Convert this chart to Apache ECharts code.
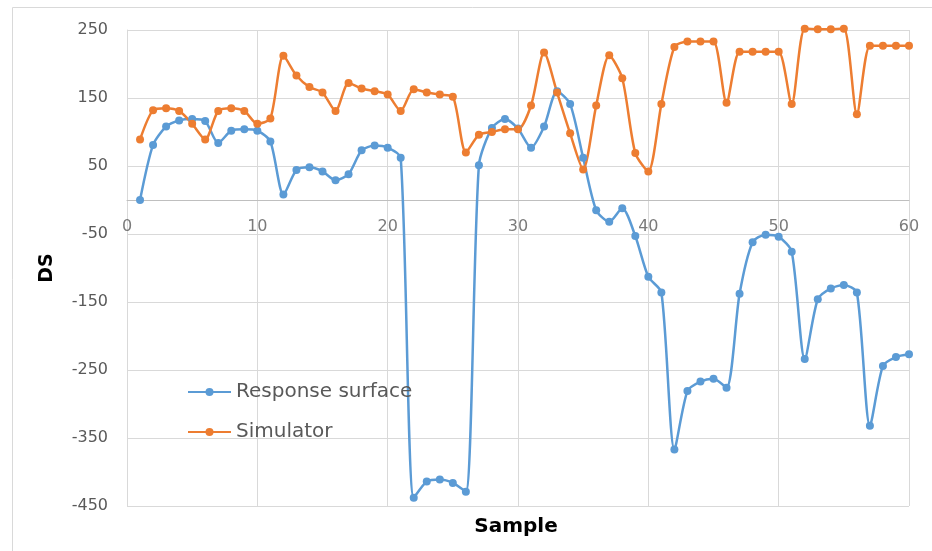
<!DOCTYPE html>
<html>
<head>
<meta charset="utf-8">
<script src="https://cdn.jsdelivr.net/npm/echarts@6/dist/echarts.min.js"></script>
<style>html,body{margin:0;padding:0;background:#fff}#c{width:932px;height:551px}</style>
</head>
<body>
<div id="c"></div>
<script>
const samples = [1,2,3,4,5,6,7,8,9,10,11,12,13,14,15,16,17,18,19,20,21,22,23,24,25,26,27,28,29,30,31,32,33,34,35,36,37,38,39,40,41,42,43,44,45,46,47,48,49,50,51,52,53,54,55,56,57,58,59,60];
const responseSurface = [0,81,108,117,119,116,84,102,104,102,86,8,44,48,42,29,38,73,80,77,62,-438,-414,-411,-416,-429,51,106,119,105,77,108,160,141,62,-15,-32,-12,-53,-113,-136,-367,-281,-267,-263,-276,-138,-62,-51,-54,-76,-234,-146,-130,-125,-136,-332,-244,-231,-227];
const simulator = [89,132,135,131,112,89,131,135,131,112,120,212,183,166,158,131,172,164,160,155,131,163,158,155,152,70,96,100,104,104,139,217,158,98,45,139,213,179,69,42,141,225,233,233,233,143,218,218,218,218,141,252,251,251,252,126,227,227,227,227];
const xTickLabels = [0,10,20,30,40,50,60];
const yTickLabels = [-450,-350,-250,-150,-50,50,150,250];

const chart = echarts.init(document.getElementById('c'));
const gray = '#595959';
const font = 'DejaVu Sans';
chart.setOption({
  animation: false,
  graphic: [{type:'rect', shape:{x:12.5,y:7.5,width:960,height:600}, style:{fill:'none', stroke:'#d9d9d9', lineWidth:1}, silent:true}],
  title: {text:'Sample', left:511, top:512, textAlign:'center',
    textStyle:{color:'#000', fontSize:20, fontWeight:'bold', fontFamily:font}},
  grid: {left:127, right:23, top:30, bottom:45},
  legend: {
    orient:'vertical', left:182, top:377, itemWidth:43, itemHeight:10, itemGap:20,
    textStyle:{color:gray, fontSize:20, fontFamily:font},
    data:['Response surface','Simulator']
  },
  xAxis: {
    type:'value', min:0, max:60, interval:10,
    axisLine:{show:true, onZero:true, lineStyle:{color:'#bfbfbf', width:1}},
    axisTick:{show:false},
    axisLabel:{show:false},
    splitLine:{show:true, lineStyle:{color:'#d9d9d9', width:1}}
  },
  yAxis: {
    type:'value', min:-450, max:250, interval:50,
    axisLine:{show:true, lineStyle:{color:'#d9d9d9'}},
    axisTick:{show:false},
    axisLabel:{color:gray, fontSize:16, fontFamily:font, margin:19,
      formatter: v => yTickLabels.indexOf(Math.round(v)) >= 0 ? String(Math.round(v)) : ''},
    splitLine:{show:true, lineStyle:{color:['#d9d9d9','rgba(0,0,0,0)'], width:1}},
    name:'DS', nameLocation:'middle', nameGap:70,
    nameTextStyle:{color:'#000', fontSize:19, fontWeight:'bold', fontFamily:font}
  },
  series: [{
    name:'Response surface', type:'line', clip:false,
    data: samples.map((s,i)=>[s, responseSurface[i]]),
    smooth:0.25, symbol:'circle', symbolSize:8,
    lineStyle:{color:'#5B9BD5', width:2.5}, itemStyle:{color:'#5B9BD5'}
  },{
    name:'Simulator', type:'line', clip:false,
    data: samples.map((s,i)=>[s, simulator[i]]),
    smooth:0.25, symbol:'circle', symbolSize:8,
    lineStyle:{color:'#ED7D31', width:2.5}, itemStyle:{color:'#ED7D31'}
  },{
    name:'xTicks', type:'scatter', clip:false, silent:true, z:1,
    data: xTickLabels.map(v=>[v,0]),
    symbolSize:1, itemStyle:{color:'rgba(0,0,0,0)'},
    label:{show:true, position:'bottom', distance:18, color:gray, fontSize:16, fontFamily:font,
      formatter: p => String(p.value[0])},
    tooltip:{show:false}
  }]
});
</script>
</body>
</html>
